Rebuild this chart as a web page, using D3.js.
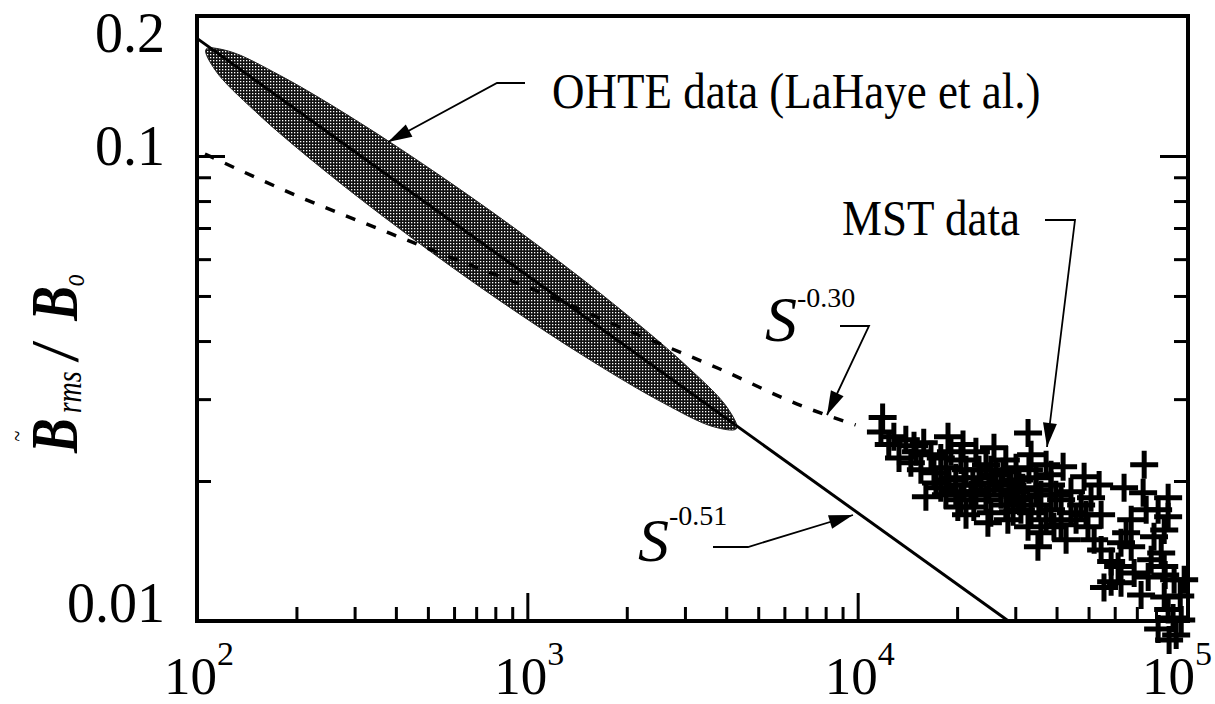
<!DOCTYPE html>
<html>
<head>
<meta charset="utf-8">
<script src="https://cdn.jsdelivr.net/npm/d3@7"></script>
<style>
  html, body { margin: 0; padding: 0; background: #fff; }
  svg { display: block; background: #fff; }
  text { font-family: "Liberation Serif", "Times New Roman", "DejaVu Serif", serif; fill: #000; }
</style>
</head>
<body>
<svg id="chart" width="1215" height="704"></svg>
<script>
//data
const xMajorTicks = [1e3, 1e4]
const xMinorTicks = [200, 300, 400, 500, 600, 700, 800, 900,
    2000, 3000, 4000, 5000, 6000, 7000, 8000, 9000,
    20000, 30000, 40000, 50000, 60000, 70000, 80000, 90000]
const yMajorTicks = [0.1]
const yMinorTicks = [0.02, 0.03, 0.04, 0.05, 0.06, 0.07, 0.08, 0.09]

const xLabelValues = [1e2, 1e3, 1e4, 1e5]
const xLabelExps = ["2", "3", "4", "5"]
const yLabelValues = [0.2, 0.1, 0.01]
const yLabelTexts = ["0.2", "0.1", "0.01"]

// OHTE band outline (S, B)
const ohteS = [106.5, 113.6, 150.2, 238.2, 428.3, 813.6, 1514, 2553, 3666, 4298,
    4032, 3047, 1921, 1069, 562.3, 302.4, 179.3, 124.9]
const ohteB = [0.1696, 0.1529, 0.1247, 0.0942, 0.0682, 0.0492, 0.0368, 0.02956, 0.02616, 0.02592,
    0.02874, 0.03526, 0.04665, 0.06445, 0.0893, 0.1194, 0.1487, 0.168]

// S^-0.51 fit (solid)
const steepS = [100, 28600]
const steepB = [0.179, 0.01]

// S^-0.30 fit (dashed)
const flatS = [105.7, 205, 376, 593, 1110, 2009, 3765, 6862, 9860]
const flatB = [0.101, 0.0816, 0.0686, 0.0603, 0.0507, 0.0422, 0.035, 0.0289, 0.0264]

// MST data points
const mstS = [11900, 11760, 12420, 12870, 13990, 14810, 15850, 16670, 18770, 19160,
    20840, 22800, 25860, 28090, 32790, 33490, 37190, 41870, 48470, 53820,
    73680, 64040, 73140, 87070, 81200, 87070,
    13340, 14490, 15540, 17020, 18500, 19820, 21280, 22320, 23630, 24960,
    26230, 27160, 29120, 30570, 31620, 34660, 35870, 38490, 41290, 44230,
    47480, 44230, 50870, 54570,
    16090, 17850, 19820, 20100, 22470, 24790, 25300, 28490, 32790, 33490,
    35870, 35130, 39280, 42750, 49790, 51980, 54570, 58520, 62690, 67300,
    61440, 68700, 55680, 62690, 75770, 78910, 82960, 84730, 84730, 90780,
    97370, 84730, 87070, 94740, 90110, 81200, 92090, 85310, 58520, 64960,
    15020, 17850, 20540, 24460, 30160, 22020, 28090, 31200, 24460, 38490,
    45830, 67300, 74710, 77340, 72100, 95390, 87660,
    18900, 20980, 23300, 25860, 28700, 31850, 35360, 27530, 30790, 39810,
    37190, 41290, 49130,
    18500, 20540, 22800, 25300, 27160, 30160, 33000, 34660, 38490, 21280,
    29540, 17260]
const mstB = [0.0274, 0.0255, 0.02395, 0.0249, 0.02453, 0.02383, 0.02418, 0.02277, 0.02489, 0.02312,
    0.02395, 0.02312, 0.02359, 0.0222, 0.02538, 0.02277, 0.02168, 0.02147, 0.02042, 0.01962,
    0.02168, 0.01934, 0.01888, 0.01841, 0.01734, 0.01676,
    0.02242, 0.02189, 0.02116, 0.02084, 0.02137, 0.02032, 0.02116, 0.01962, 0.02032, 0.01916,
    0.02063, 0.01869, 0.0199, 0.01822, 0.01934, 0.02032, 0.01869, 0.01962, 0.01822, 0.01897,
    0.01776, 0.0171, 0.01841, 0.01693,
    0.0185, 0.01934, 0.01897, 0.01759, 0.01759, 0.01627, 0.0171, 0.01651, 0.01594, 0.0171,
    0.01548, 0.01444, 0.01594, 0.01496, 0.01594, 0.01496, 0.01422, 0.01342, 0.01474, 0.01444,
    0.01309, 0.01269, 0.0118, 0.01209, 0.01244, 0.01518, 0.01401, 0.0157, 0.01309, 0.01227,
    0.01227, 0.01126, 0.01058, 0.01132, 0.01015, 0.00961, 0.00933, 0.01256, 0.01215, 0.01548,
    0.02312, 0.02242, 0.0222, 0.02168, 0.02137, 0.01869, 0.01776, 0.01734, 0.01822, 0.01734,
    0.01651, 0.01651, 0.01734, 0.01355, 0.01138, 0.01005, 0.0091,
    0.02011, 0.01962, 0.02116, 0.01981, 0.01916, 0.0185, 0.01776, 0.02095, 0.02011, 0.01869,
    0.01651, 0.0161, 0.01693,
    0.01869, 0.01822, 0.01897, 0.02116, 0.01962, 0.01897, 0.02116, 0.01916, 0.02063, 0.01693,
    0.01718, 0.01981]

//dimensions
const w = 1215
const h = 704
const margin = { top: 16, right: 27, bottom: 83, left: 197 }

const svg = d3.select('#chart')

//scales
const xScale = d3.scaleLog()
    .domain([1e2, 1e5])
    .range([margin.left, w - margin.right])
const yScale = d3.scaleLog()
    .domain([0.01, 0.2])
    .range([h - margin.bottom, margin.top])

const x0 = xScale.range()[0], x1 = xScale.range()[1]
const y0 = yScale.range()[0], y1 = yScale.range()[1]

//band pattern
const pat = svg.append('defs').append('pattern')
    .attr('id', 'stipple')
    .attr('patternUnits', 'userSpaceOnUse')
    .attr('width', 3).attr('height', 3)
pat.append('rect').attr('width', 3).attr('height', 3).attr('fill', '#111')
pat.append('rect').attr('width', 1.3).attr('height', 1.3).attr('fill', '#fff')

//OHTE band
const bandLine = d3.line()
    .x(d => xScale(d[0]))
    .y(d => yScale(d[1]))
    .curve(d3.curveCatmullRomClosed.alpha(0.5))
svg.append('path')
    .attr('d', bandLine(d3.zip(ohteS, ohteB)))
    .attr('fill', 'url(#stipple)')
    .attr('stroke', '#222')
    .attr('stroke-width', 1)

//fit lines
const fitLine = d3.line()
    .x(d => xScale(d[0]))
    .y(d => yScale(d[1]))
svg.append('path')
    .attr('d', fitLine(d3.zip(steepS, steepB)))
    .attr('fill', 'none')
    .attr('stroke', '#000')
    .attr('stroke-width', 3)
svg.append('path')
    .attr('d', fitLine.curve(d3.curveMonotoneX)(d3.zip(flatS, flatB)))
    .attr('fill', 'none')
    .attr('stroke', '#000')
    .attr('stroke-width', 3.5)
    .attr('stroke-dasharray', '10 12')

//MST crosses
svg.append('g')
    .selectAll('path')
    .data(d3.zip(mstS, mstB))
    .join('path')
    .attr('transform', d => `translate(${xScale(d[0])},${yScale(d[1])})`)
    .attr('d', 'M-14,0H14M0,-14V14')
    .attr('stroke', '#000')
    .attr('stroke-width', 5)
    .attr('fill', 'none')

//frame
svg.append('rect')
    .attr('x', x0).attr('y', y1)
    .attr('width', x1 - x0).attr('height', y0 - y1)
    .attr('fill', 'none')
    .attr('stroke', '#000')
    .attr('stroke-width', 4)

//ticks (inward)
function ticks(axis, vals, size, transform) {
    svg.append('g')
        .attr('transform', transform)
        .call(axis.tickValues(vals).tickSize(size).tickFormat(''))
        .call(g => g.select('.domain').remove())
        .call(g => g.selectAll('line').attr('stroke', '#000').attr('stroke-width', 3))
}
ticks(d3.axisBottom(xScale), xMinorTicks, -14, `translate(0, ${y0})`)
ticks(d3.axisBottom(xScale), xMajorTicks, -28, `translate(0, ${y0})`)
ticks(d3.axisLeft(yScale), yMinorTicks, -14, `translate(${x0}, 0)`)
ticks(d3.axisLeft(yScale), yMajorTicks, -28, `translate(${x0}, 0)`)
ticks(d3.axisRight(yScale), yMinorTicks, -14, `translate(${x1}, 0)`)
ticks(d3.axisRight(yScale), yMajorTicks, -28, `translate(${x1}, 0)`)

//tick labels
const yLabelDy = [36, 9, 1]
svg.selectAll('.ylab')
    .data(yLabelValues)
    .join('text')
    .attr('class', 'ylab')
    .attr('x', x0 - 32)
    .attr('y', (d, i) => yScale(d) + yLabelDy[i])
    .attr('text-anchor', 'end')
    .style('font-size', '56px')
    .text((d, i) => yLabelTexts[i])

// last label is pulled in so its exponent stays on the page
const xl = svg.selectAll('.xlab')
    .data(xLabelValues)
    .join('text')
    .attr('class', 'xlab')
    .attr('x', d => Math.min(xScale(d) + 2, w - 38))
    .attr('y', 694)
    .attr('text-anchor', 'middle')
    .style('font-size', '53px')
xl.append('tspan').text('10')
xl.append('tspan')
    .attr('dy', -29)
    .style('font-size', '34px')
    .text((d, i) => xLabelExps[i])

//y axis title
const yt = svg.append('g')
    .attr('transform', 'translate(77, 453) rotate(-90) scale(1, 1.3)')
const ytText = yt.append('text')
    .style('font-size', '52px')
    .style('font-weight', 'bold')
    .style('font-style', 'italic')
ytText.append('tspan').text('B')
ytText.append('tspan')
    .attr('dx', 5).attr('dy', 3)
    .style('font-size', '28px').style('font-weight', 'normal')
    .text('rms')
ytText.append('tspan')
    .attr('dx', 12).attr('dy', -3)
    .text('/')
ytText.append('tspan')
    .attr('dx', 24)
    .text('B')
ytText.append('tspan')
    .attr('dy', 5)
    .style('font-size', '24px').style('font-weight', 'normal')
    .text('o')
yt.append('text')
    .attr('x', 17).attr('y', -40)
    .attr('text-anchor', 'middle')
    .style('font-size', '20px')
    .text('~')

//annotations
function leader(pts) {
    svg.append('path')
        .attr('d', d3.line()(pts))
        .attr('fill', 'none')
        .attr('stroke', '#000')
        .attr('stroke-width', 1.8)
    const p = pts[pts.length - 2], q = pts[pts.length - 1]
    const ang = Math.atan2(q[1] - p[1], q[0] - p[0])
    const L = 24, W = 7
    const bx = q[0] - L * Math.cos(ang), by = q[1] - L * Math.sin(ang)
    const head = [q,
        [bx + W * Math.sin(ang), by - W * Math.cos(ang)],
        [bx - W * Math.sin(ang), by + W * Math.cos(ang)]]
    svg.append('path')
        .attr('d', 'M' + head.join('L') + 'Z')
        .attr('fill', '#000')
}

leader([[525, 83], [497, 83], [388, 142]])
svg.append('text')
    .attr('transform', 'translate(552, 108) scale(1, 1.12)')
    .style('font-size', '45px')
    .text('OHTE data (LaHaye et al.)')

leader([[1045, 220], [1075, 220], [1047, 447]])
svg.append('text')
    .attr('transform', 'translate(842, 235) scale(1, 1.12)')
    .style('font-size', '45px')
    .text('MST data')

leader([[840, 326], [869, 326], [827, 415]])
const s30 = svg.append('text').attr('x', 765).attr('y', 341)
s30.append('tspan').style('font-size', '64px').style('font-style', 'italic').text('S')
s30.append('tspan').attr('dy', -34).style('font-size', '28px').text('-0.30')

leader([[713, 547], [748, 547], [853, 515]])
const s51 = svg.append('text').attr('x', 638).attr('y', 561)
s51.append('tspan').style('font-size', '62px').style('font-style', 'italic').text('S')
s51.append('tspan').attr('dy', -36).style('font-size', '28px').text('-0.51')
</script>
</body>
</html>
